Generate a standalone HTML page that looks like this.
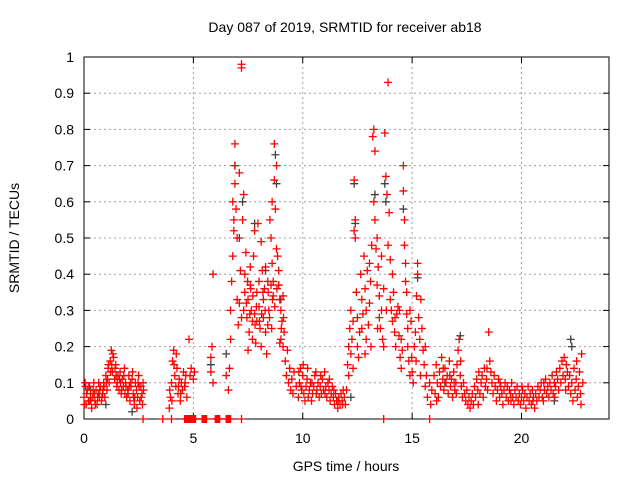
<!DOCTYPE html>
<html><head><meta charset="utf-8"><style>
body{margin:0;background:#fff}
svg{display:block;font-family:"Liberation Sans",sans-serif}
</style></head><body>
<svg id="chart" width="640" height="480" viewBox="0 0 640 480">
<rect width="640" height="480" fill="#fff"/>
<text x="345" y="32" font-size="14" text-anchor="middle">Day 087 of 2019, SRMTID for receiver ab18</text>
<g id="grid"></g>
<g id="axes"></g>
<g id="marks"></g>
<text x="346" y="471" font-size="14" text-anchor="middle">GPS time / hours</text>
<text transform="translate(19,238) rotate(-90)" font-size="14" text-anchor="middle">SRMTID / TECUs</text>
</svg>
<script>
const xTicks=[0,5,10,15,20];
const yTicks=[0,0.1,0.2,0.3,0.4,0.5,0.6,0.7,0.8,0.9,1];
const yTickLabels=["0","0.1","0.2","0.3","0.4","0.5","0.6","0.7","0.8","0.9","1"];
const hoursGrey=[6.9,7.1,7.25,7.8,8.3,8.75,8.8,9.0,12.35,12.4,13.3,13.75,13.8,14.6,15.25,17.2,22.25,22.3,5.8,6.5,0.3,1.0,2.2,12.2,16.5,21.5];
const srmtidGrey=[.7,.5,.6,.54,.41,.73,.65,.33,.65,.54,.62,.65,.6,.58,.39,.23,.22,.2,.15,.18,.08,.04,.02,.06,.1,.05];
const hours=[
0.0,0.05,0.1,0.15,0.2,0.25,0.3,0.35,0.4,0.45,0.5,0.55,0.6,0.65,0.7,0.75,0.8,0.85,0.9,0.95,1.0,1.05,1.1,1.15,1.2,1.25,1.3,1.35,1.4,1.45,1.5,1.55,1.6,1.65,1.7,1.75,1.8,1.85,1.9,1.95,2.0,2.05,2.1,2.15,2.2,2.25,2.3,2.35,2.4,2.45,2.5,2.55,2.6,2.65,2.7,
0.02,0.12,0.22,0.32,0.42,0.52,0.62,0.72,0.82,0.92,1.02,1.12,1.22,1.32,1.42,1.52,1.62,1.72,1.82,1.92,2.02,2.12,2.22,2.32,2.42,2.52,2.62,2.72,
0.07,0.27,0.47,0.67,0.87,1.07,1.27,1.47,1.67,1.87,2.07,2.27,2.47,2.67,
3.9,3.95,4.0,4.05,4.1,4.15,4.2,4.25,4.3,4.35,4.4,4.45,4.5,4.55,4.6,4.65,4.7,4.8,4.9,5.0,4.02,4.12,4.22,4.32,4.42,4.62,4.85,5.05,3.92,
5.8,5.8,5.85,5.9,5.9,6.5,
6.6,6.65,6.7,6.7,6.75,6.8,6.8,6.85,6.85,6.9,6.9,6.9,6.95,7.0,7.0,7.05,7.1,7.1,7.15,7.2,7.2,7.2,7.25,7.3,7.3,7.35,7.35,7.4,7.45,7.5,7.5,7.55,7.6,7.6,7.65,7.7,7.7,7.75,7.8,7.8,7.85,7.9,7.9,7.95,8.0,8.0,8.05,8.1,8.1,8.15,8.2,8.2,8.25,8.3,8.3,8.35,8.4,8.4,8.45,8.5,8.55,8.6,8.6,8.65,8.65,8.7,8.7,8.75,8.8,8.8,8.85,8.9,8.9,8.95,9.0,9.0,9.05,9.1,9.1,9.15,9.2,9.25,9.3,9.35,9.4,9.45,9.5,9.55,9.6,9.7,
7.42,7.58,7.72,7.88,8.02,8.18,8.28,8.42,8.55,7.48,7.62,7.82,8.12,8.48,8.62,8.72,8.82,9.02,9.12,8.95,8.58,
9.8,9.85,9.9,9.95,10.0,10.05,10.1,10.15,10.2,10.25,10.3,10.35,10.4,10.45,10.5,10.55,10.6,10.65,10.7,10.75,10.8,10.85,10.9,10.95,11.0,11.05,11.1,11.15,11.2,11.25,11.3,11.35,11.4,11.45,11.5,11.55,11.6,11.65,11.7,11.75,11.8,11.85,11.9,11.95,9.82,9.92,10.02,10.22,10.42,10.62,10.82,11.02,11.22,11.42,11.62,11.82,
12.0,12.05,12.1,12.1,12.15,12.2,12.2,12.25,12.3,12.3,12.35,12.35,12.4,12.4,12.45,12.5,12.5,12.55,12.6,12.65,12.7,12.7,12.75,12.8,12.85,12.9,12.9,12.95,13.0,13.05,13.05,13.1,13.15,13.2,13.25,13.25,13.3,13.3,13.35,13.4,13.4,13.45,13.5,13.5,13.55,13.6,13.6,13.65,13.7,13.7,13.75,13.8,13.85,13.9,13.9,13.95,14.0,14.0,14.05,14.1,14.1,14.15,14.2,14.25,14.3,14.35,14.4,14.45,14.5,14.5,14.55,14.6,14.6,14.65,14.65,14.7,14.7,14.75,14.75,14.8,14.8,14.85,14.9,14.9,14.95,15.0,15.05,15.1,15.15,15.2,15.25,15.25,15.3,15.35,15.4,15.45,15.5,15.55,15.6,15.6,15.65,12.85,13.12,13.42,13.82,14.22,14.42,14.98,15.18,15.38,
15.7,15.8,15.85,15.9,16.0,16.05,16.1,16.15,16.2,16.25,16.3,16.35,16.4,16.45,16.5,16.55,16.6,16.65,16.7,16.75,16.8,16.85,16.9,16.95,17.0,17.05,17.1,17.15,17.2,17.25,17.3,17.35,17.4,17.45,17.5,17.55,17.6,17.65,17.7,17.75,17.8,17.85,17.9,17.95,18.0,18.05,18.1,18.15,18.2,18.25,18.3,18.35,18.4,18.45,18.5,18.55,18.6,18.65,18.7,18.75,18.8,18.85,18.9,18.95,19.0,19.05,19.1,19.15,19.2,19.25,19.3,19.35,19.4,19.45,19.5,19.55,19.6,19.65,19.7,19.75,19.8,19.85,19.9,19.95,20.0,20.05,20.1,20.15,20.2,20.25,20.3,20.35,20.4,20.45,20.5,20.55,20.6,20.65,20.7,20.75,20.8,20.85,20.9,20.95,21.0,21.05,21.1,21.15,21.2,21.25,21.3,21.35,21.4,21.45,21.5,21.55,21.6,21.65,21.7,21.75,21.8,21.85,21.9,21.95,22.0,22.05,22.1,22.15,22.2,22.25,22.3,22.35,22.4,22.45,22.5,22.55,22.6,22.65,22.7,22.75,22.8,
16.12,16.42,16.72,17.02,18.02,18.42,19.02,19.52,20.02,20.52,21.02,21.52,22.02,22.52,22.72,17.22,16.92,
2.7,3.6,4.0,4.6,4.7,4.8,4.9,5.0,5.1,5.4,5.5,5.6,6.0,6.1,6.2,6.5,6.6,6.7,7.2,13.7,15.8,4.65,4.75,4.85,4.95,5.05,5.45,5.55,6.05,6.15,6.55,6.65];
const srmtid=[
.06,.1,.04,.08,.05,.09,.07,.03,.06,.1,.05,.08,.04,.07,.06,.09,.05,.07,.1,.06,.12,.08,.14,.1,.16,.19,.13,.17,.11,.15,.09,.12,.08,.13,.07,.11,.09,.14,.1,.06,.08,.12,.05,.09,.11,.07,.04,.1,.08,.06,.12,.05,.09,.07,.1,
.04,.07,.09,.05,.08,.04,.06,.08,.06,.09,.1,.15,.13,.18,.14,.1,.11,.08,.12,.09,.07,.1,.13,.06,.03,.09,.06,.08,
.09,.05,.07,.1,.08,.11,.15,.12,.1,.07,.09,.06,.1,.04,
.03,.06,.1,.16,.19,.12,.09,.14,.07,.11,.05,.1,.08,.13,.09,.12,.06,.22,.14,.11,.05,.15,.18,.09,.07,.1,.12,.13,.08,
.13,.17,.2,.1,.4,.12,
.08,.14,.22,.3,.38,.45,.6,.52,.55,.76,.7,.65,.58,.5,.33,.26,.68,.32,.41,.97,.98,.28,.55,.62,.3,.35,.4,.46,.28,.19,.33,.24,.37,.42,.3,.22,.27,.45,.52,.29,.21,.35,.27,.54,.38,.31,.25,.49,.2,.41,.33,.28,.36,.24,.42,.18,.26,.38,.3,.55,.5,.6,.43,.38,.34,.76,.66,.58,.7,.47,.45,.37,.41,.33,.3,.22,.27,.34,.2,.24,.16,.12,.19,.1,.14,.08,.11,.07,.13,.09,
.32,.29,.34,.31,.27,.35,.3,.35,.37,.38,.36,.26,.29,.28,.33,.31,.36,.25,.28,.21,.25,
.06,.1,.14,.08,.12,.07,.05,.09,.11,.06,.08,.1,.05,.07,.09,.12,.13,.08,.1,.06,.09,.07,.11,.08,.13,.09,.06,.1,.08,.05,.07,.09,.06,.04,.07,.05,.03,.06,.04,.07,.05,.08,.06,.04,.13,.09,.15,.14,.1,.07,.12,.07,.11,.08,.05,.04,
.08,.15,.2,.12,.25,.18,.3,.22,.27,.14,.52,.66,.55,.5,.35,.28,.2,.17,.24,.4,.33,.25,.29,.45,.36,.3,.22,.41,.26,.32,.43,.38,.48,.78,.8,.6,.74,.55,.47,.5,.37,.42,.34,.28,.25,.45,.3,.22,.2,.36,.79,.67,.62,.93,.48,.57,.44,.33,.3,.27,.4,.35,.24,.2,.29,.31,.23,.17,.14,.22,.19,.7,.63,.55,.48,.43,.38,.35,.29,.25,.2,.16,.12,.3,.27,.13,.1,.2,.24,.34,.4,.43,.28,.22,.33,.25,.19,.15,.2,.09,.12,.18,.2,.25,.3,.28,.3,.17,.16,.12,
.06,.1,.04,.08,.12,.07,.15,.1,.06,.13,.09,.17,.11,.08,.14,.1,.12,.07,.16,.09,.11,.06,.13,.08,.1,.15,.19,.22,.12,.09,.06,.1,.07,.05,.08,.04,.06,.03,.05,.07,.04,.09,.06,.11,.08,.13,.07,.1,.12,.06,.14,.09,.11,.08,.24,.16,.13,.1,.07,.12,.09,.05,.08,.11,.06,.09,.07,.04,.08,.1,.06,.09,.05,.08,.07,.1,.06,.04,.08,.06,.09,.05,.07,.04,.06,.08,.05,.07,.03,.06,.09,.05,.07,.04,.08,.06,.03,.07,.05,.09,.06,.08,.1,.06,.05,.08,.11,.07,.09,.06,.1,.08,.12,.07,.1,.09,.13,.11,.08,.14,.1,.16,.12,.17,.11,.15,.13,.09,.12,.07,.1,.05,.14,.08,.11,.06,.09,.13,.07,.18,.1,
.05,.14,.12,.07,.04,.14,.1,.05,.09,.05,.1,.06,.08,.16,.04,.16,.1,
0,0,0,0,0,0,0,0,0,0,0,0,0,0,0,0,0,0,0,0,0,0,0,0,0,0,0,0,0,0,0,0];
const NS="http://www.w3.org/2000/svg";
const L=84,R=609,T=57,B=419,XMAX=24;
const xs=v=>L+(R-L)*v/XMAX, ys=v=>B-(B-T)*v;
function mk(tag,attrs,parent){const e=document.createElementNS(NS,tag);for(const k in attrs)e.setAttribute(k,attrs[k]);parent.appendChild(e);return e;}
const grid=document.getElementById('grid'),axes=document.getElementById('axes'),marks=document.getElementById('marks');
yTicks.forEach((v,i)=>{const y=ys(v);
 if(i>0&&i<yTicks.length-1){const g=mk('line',{x1:L,x2:R,y1:y,y2:y,stroke:'#a0a0a0','stroke-dasharray':'2,3'},grid);
 
 }
 mk('line',{x1:L,x2:L+6,y1:y,y2:y,stroke:'#000'},axes);mk('line',{x1:R-6,x2:R,y1:y,y2:y,stroke:'#000'},axes);
 const t=mk('text',{x:L-10,y:y+5,'font-size':14,'text-anchor':'end'},axes);t.textContent=yTickLabels[i];
 
 
});
xTicks.forEach(v=>{const x=xs(v);
 if(v>0){const g=mk('line',{x1:x,x2:x,y1:T,y2:B,stroke:'#a0a0a0','stroke-dasharray':'2,3'},grid);
 
 }
 mk('line',{x1:x,x2:x,y1:B,y2:B-6,stroke:'#000'},axes);mk('line',{x1:x,x2:x,y1:T,y2:T+6,stroke:'#000'},axes);
 const t=mk('text',{x:x,y:B+24,'font-size':14,'text-anchor':'middle'},axes);t.textContent=String(v);
 
 
});
const fr=mk('rect',{x:L,y:T,width:R-L,height:B-T,fill:'none',stroke:'#000'},axes);


function plus(x,y,c,parent){return mk('path',{d:`M${x-4},${y}h8M${x},${y-4}v8`,stroke:c,'stroke-width':1.3,fill:'none'},parent);}
const gg=mk('g',{},marks);


hoursGrey.forEach((h,i)=>{const p=plus(xs(h),ys(srmtidGrey[i]),'#404040',gg);
 
 });
const gr=mk('g',{},marks);


hours.forEach((h,i)=>{const p=plus(xs(h),ys(srmtid[i]),'#ff0000',gr);
 
 });
</script>
</body></html>
